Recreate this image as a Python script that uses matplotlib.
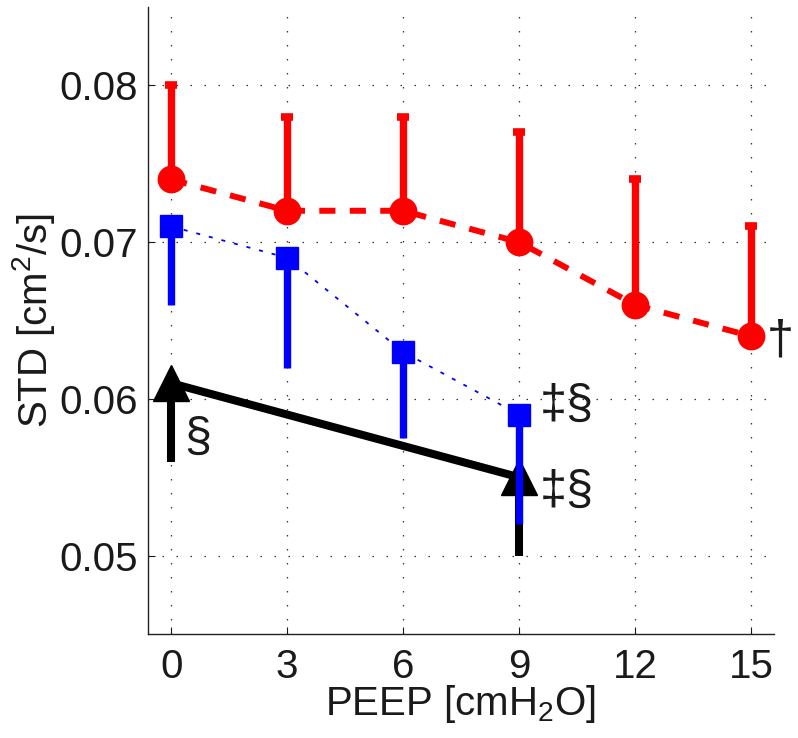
import matplotlib
matplotlib.use("Agg")
import matplotlib.pyplot as plt
from matplotlib import font_manager

# ---- data ----
peep_red = [0, 3, 6, 9, 12, 15]
std_red = [0.074, 0.072, 0.072, 0.070, 0.066, 0.064]
std_red_upper = [0.080, 0.078, 0.078, 0.077, 0.074, 0.071]

peep_blue = [0, 3, 6, 9]
std_blue = [0.071, 0.069, 0.063, 0.059]
std_blue_lower = [0.066, 0.062, 0.0575, 0.052]

peep_black = [0, 9]
std_black = [0.061, 0.055]
std_black_lower = [0.056, 0.050]

xticks = [0, 3, 6, 9, 12, 15]
yticks = [0.05, 0.06, 0.07, 0.08]
ytick_labels = ["0.05", "0.06", "0.07", "0.08"]

names = {f.name for f in font_manager.fontManager.ttflist}
fam = [f for f in ["Liberation Sans Narrow", "Liberation Sans", "DejaVu Sans"] if f in names]
plt.rcParams["font.family"] = fam
plt.rcParams["mathtext.default"] = "regular"

fig = plt.figure(figsize=(7.98, 7.38), dpi=100)
ax = fig.add_axes([148 / 798, 1 - 634 / 738, (774 - 148) / 798, (634 - 7) / 738])

# black series
blk_err = [[m - l for m, l in zip(std_black, std_black_lower)], [0] * len(std_black)]
ax.errorbar(peep_black, std_black, yerr=blk_err, fmt="none", ecolor="black",
            elinewidth=5.8, capsize=0, zorder=2)
ax.plot(peep_black, std_black, color="black", lw=5.8, marker="^", ms=26,
        solid_capstyle="butt", zorder=3)

# blue series
blu_err = [[m - l for m, l in zip(std_blue, std_blue_lower)], [0] * len(std_blue)]
ax.plot(peep_blue, std_blue, color="blue", lw=1.3, linestyle=(0, (2.2, 5)), zorder=4)
ax.errorbar(peep_blue, std_blue, yerr=blu_err, fmt="none", ecolor="blue",
            elinewidth=5.3, capsize=0, zorder=5)
ax.plot(peep_blue, std_blue, color="blue", lw=0, marker="s", ms=16, zorder=6)

# red series
red_err = [[0] * len(std_red), [u - m for m, u in zip(std_red, std_red_upper)]]
ax.errorbar(peep_red, std_red, yerr=red_err, fmt="none", ecolor="red",
            elinewidth=5.3, capsize=4, capthick=5.5, zorder=7)
ax.plot(peep_red, std_red, color="red", lw=4.3, linestyle=(0, (2.7, 2.4)),
        marker="o", ms=19, zorder=8)

# annotations
fs = 29
afs = 35
tc = "#1a1a1a"
ax.text(0.35, 0.0575, "§", fontsize=afs, va="center", ha="left", color=tc)
ax.text(9.55, 0.0596, "‡§", fontsize=afs, va="center", ha="left", color=tc)
ax.text(9.55, 0.0541, "‡§", fontsize=afs, va="center", ha="left", color=tc)
ax.text(15.4, 0.0637, "†", fontsize=afs, va="center", ha="left", color=tc)

ax.set_xlim(-0.6, 15.6)
ax.set_ylim(0.045, 0.085)
ax.set_xticks(xticks)
ax.set_xticklabels([str(t) for t in xticks])
ax.set_yticks(yticks)
ax.set_yticklabels(ytick_labels)
ax.tick_params(direction="in", length=5, width=0.8, labelsize=fs, colors=tc)
ax.tick_params(axis="x", pad=10)
ax.tick_params(axis="y", pad=7)
ax.grid(True, color="#333333", linestyle=(0, (1.2, 10)), linewidth=0.9)
for s in ["top", "right"]:
    ax.spines[s].set_visible(False)
for s in ["left", "bottom"]:
    ax.spines[s].set_linewidth(1.0)
    ax.spines[s].set_color("#222222")

ax.set_xlabel("PEEP [cmH$_{2}$O]", fontsize=fs, labelpad=-2, color=tc)
ax.set_ylabel("STD [cm$^{2}$/s]", fontsize=fs, labelpad=2, color=tc)

fig.savefig("out.png", dpi=100)
